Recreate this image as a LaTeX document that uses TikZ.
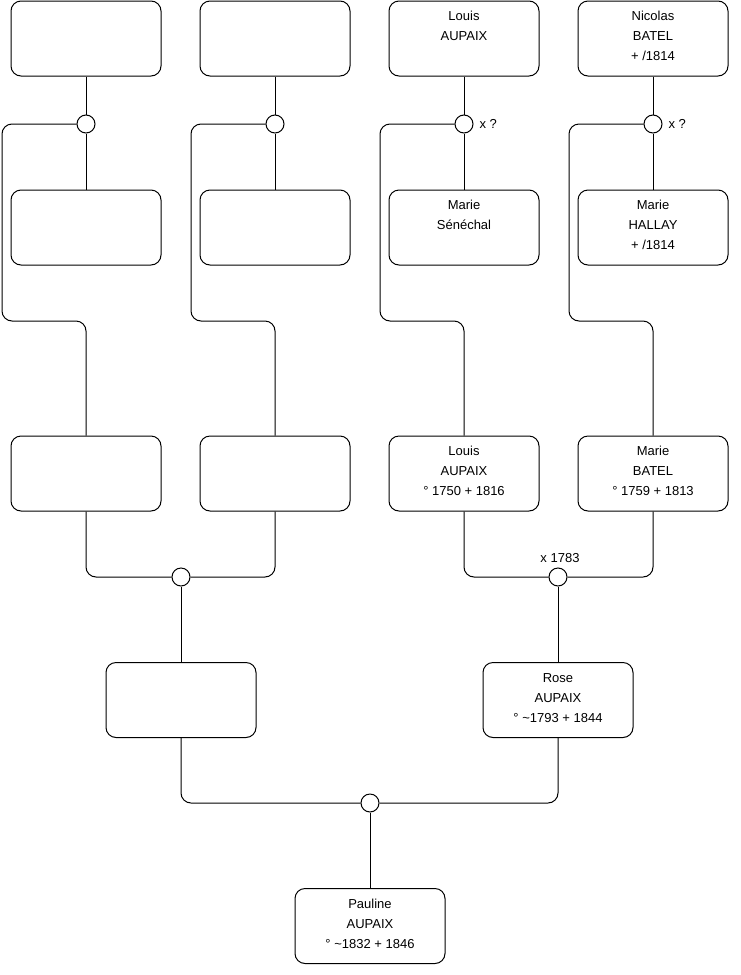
\documentclass[tikz,border=0pt]{standalone}
\usepackage{fontspec}
\setmainfont{Liberation Sans}
\newcommand\firstl{\rule{0pt}{12pt}}
\begin{document}
\begin{tikzpicture}[x=1pt,y=-1pt, line width=1pt,
 box/.style={draw, rounded corners=10pt, minimum width=150pt, minimum height=75pt, inner sep=0pt, fill=white},
 ring/.style={draw, circle, minimum size=18pt, inner sep=0pt, fill=white},
 txt/.style={anchor=north, yshift=-7.7pt, inner sep=0pt, align=center, font=\fontsize{13}{20}\selectfont},
 lbl/.style={inner sep=0pt, font=\fontsize{13}{16}\selectfont},
 link/.style={draw, rounded corners=10pt}]
\fill[white] (0,0) rectangle (740,975);
\useasboundingbox (0,0) rectangle (740,975);
% row 1
\node[box] (b1) at (86,38.5) {};
\node[box] (b2) at (275,38.5) {};
\node[box] (b3) at (464,38.5) {};
\node[box] (b4) at (653,38.5) {};
\node[txt] (tb3) at (b3.north) {\firstl Louis\\AUPAIX};
\node[txt] (tb4) at (b4.north) {\firstl Nicolas\\BATEL\\+ /1814};
% circles row 1
\node[ring] (c1) at (86,124) {};
\node[ring] (c2) at (275,124) {};
\node[ring] (c3) at (464,124) {};
\node[ring] (c4) at (653,124) {};
\node[lbl, anchor=west] (l3) at (479,124) {x ?};
\node[lbl, anchor=west] (l4) at (668,124) {x ?};
% row 2
\node[box] (m1) at (86,227.5) {};
\node[box] (m2) at (275,227.5) {};
\node[box] (m3) at (464,227.5) {};
\node[box] (m4) at (653,227.5) {};
\node[txt] (tm3) at (m3.north) {\firstl Marie\\Sénéchal};
\node[txt] (tm4) at (m4.north) {\firstl Marie\\HALLAY\\+ /1814};
% row 3
\node[box] (g1) at (86,473.5) {};
\node[box] (g2) at (275,473.5) {};
\node[box] (g3) at (464,473.5) {};
\node[box] (g4) at (653,473.5) {};
\node[txt] (tg3) at (g3.north) {\firstl Louis\\AUPAIX\\° 1750 + 1816};
\node[txt] (tg4) at (g4.north) {\firstl Marie\\BATEL\\° 1759 + 1813};
% circles row 3
\node[ring] (d1) at (181,577) {};
\node[ring] (d2) at (558,577) {};
\node[lbl] (l5) at (560,558) {x 1783};
% row 4
\node[box] (k1) at (181,700) {};
\node[box] (k2) at (558,700) {};
\node[txt] (tk2) at (k2.north) {\firstl Rose\\AUPAIX\\° \textasciitilde1793 + 1844};
% bottom
\node[ring] (e) at (370,803) {};
\node[box] (p) at (370,926) {};
\node[txt] (tp) at (p.north) {\firstl Pauline\\AUPAIX\\° \textasciitilde1832 + 1846};
% waypoints
\coordinate (w1) at (2,321);
\coordinate (w2) at (191,321);
\coordinate (w3) at (380,321);
\coordinate (w4) at (569,321);
% connectors
\draw (b1) -- (c1); \draw (c1) -- (m1);
\draw (b2) -- (c2); \draw (c2) -- (m2);
\draw (b3) -- (c3); \draw (c3) -- (m3);
\draw (b4) -- (c4); \draw (c4) -- (m4);
\draw[link] (c1.west) -| (w1) -| (g1.north);
\draw[link] (c2.west) -| (w2) -| (g2.north);
\draw[link] (c3.west) -| (w3) -| (g3.north);
\draw[link] (c4.west) -| (w4) -| (g4.north);
\draw[link] (g1.south) |- (d1.west);
\draw[link] (g2.south) |- (d1.east);
\draw[link] (g3.south) |- (d2.west);
\draw[link] (g4.south) |- (d2.east);
\draw (d1) -- (k1);
\draw (d2) -- (k2);
\draw[link] (k1.south) |- (e.west);
\draw[link] (k2.south) |- (e.east);
\draw (e) -- (p);
\end{tikzpicture}
\end{document}
